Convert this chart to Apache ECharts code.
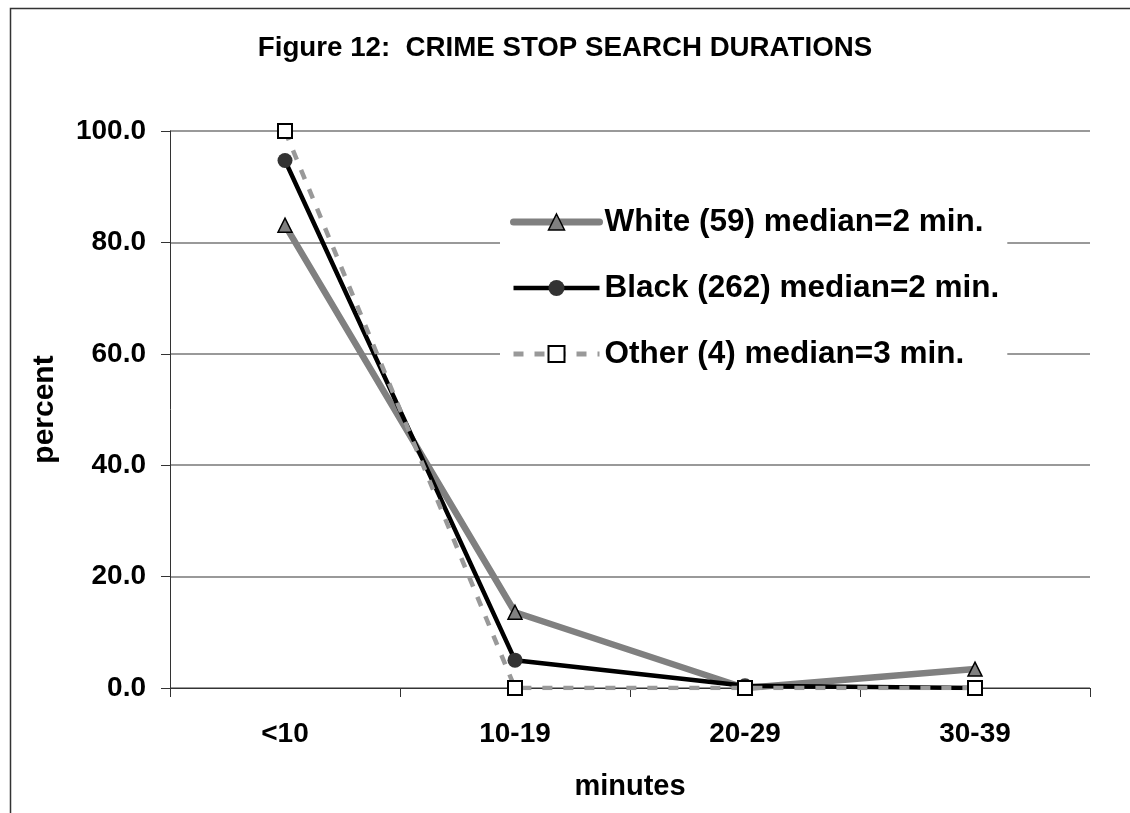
<!DOCTYPE html>
<html>
<head>
<meta charset="utf-8">
<script src="https://cdn.jsdelivr.net/npm/echarts@6/dist/echarts.min.js"></script>
<style>
html,body{margin:0;padding:0;background:#fff;}
#c{width:1130px;height:813px;}
</style>
</head>
<body>
<div id="c"></div>
<script>
var categories = ['<10', '10-19', '20-29', '30-39'];
var whiteVals = [83.1, 13.6, 0.0, 3.4];
var blackVals = [94.7, 5.0, 0.4, 0.0];
var otherVals = [100.0, 0.0, 0.0, 0.0];
var seriesNames = ['White (59) median=2 min.', 'Black (262) median=2 min.', 'Other (4) median=3 min.'];
var titleText = 'Figure 12:  CRIME STOP SEARCH DURATIONS';

var FONT = '"Liberation Sans", Arial, sans-serif';
var chart = echarts.init(document.getElementById('c'), null, {renderer: 'canvas'});
chart.setOption({
  backgroundColor: '#fff',
  animation: false,
  graphic: [{
    type: 'rect', left: 8, top: 6, z: -10, silent: true,
    shape: {width: 1300, height: 1000},
    style: {fill: 'none', stroke: '#333', lineWidth: 1.5}
  }],
  title: {
    text: titleText, left: 'center', top: 29,
    textStyle: {fontFamily: FONT, fontWeight: 'bold', fontSize: 27.7, color: '#000'}
  },
  grid: {left: 170, right: 40, top: 131, bottom: 125},
  legend: {
    orient: 'vertical', left: 500, top: 190,
    backgroundColor: '#fff', padding: [15, 8, 15, 10],
    itemWidth: 86, itemHeight: 20, itemGap: 32,
    textStyle: {fontFamily: FONT, fontWeight: 'bold', fontSize: 31.5, color: '#000', lineHeight: 34},
    data: [
      {name: seriesNames[0], lineStyle: {color: '#808080', width: 7, cap: 'round'},
        itemStyle: {color: '#808080', borderColor: '#000', borderWidth: 1.5}},
      {name: seriesNames[1], lineStyle: {color: '#000', width: 4.5},
        itemStyle: {color: '#333', borderWidth: 0}},
      {name: seriesNames[2], lineStyle: {color: '#999', width: 5, type: [10, 11]},
        itemStyle: {color: '#fff', borderColor: '#000', borderWidth: 2}}
    ]
  },
  xAxis: {
    type: 'category', data: categories, boundaryGap: true,
    name: 'minutes', nameLocation: 'middle', nameGap: 84,
    nameTextStyle: {fontFamily: FONT, fontWeight: 'bold', fontSize: 29, color: '#000'},
    axisLine: {lineStyle: {color: '#333', width: 1}},
    axisTick: {show: true, length: 9, lineStyle: {color: '#333'}},
    axisLabel: {fontFamily: FONT, fontWeight: 'bold', fontSize: 28, color: '#000', margin: 32},
    splitLine: {show: false}
  },
  yAxis: {
    type: 'value', min: 0, max: 100, interval: 20,
    name: 'percent', nameLocation: 'middle', nameGap: 110, nameRotate: 90,
    nameTextStyle: {fontFamily: FONT, fontWeight: 'bold', fontSize: 30, color: '#000'},
    axisLine: {show: true, lineStyle: {color: '#333', width: 1}},
    axisTick: {show: true, length: 9, lineStyle: {color: '#333'}},
    axisLabel: {fontFamily: FONT, fontWeight: 'bold', fontSize: 28, color: '#000', margin: 24,
      formatter: function (v) { return v.toFixed(1); }},
    splitLine: {show: true, lineStyle: {color: '#999', width: 2}}
  },
  series: [
    {
      name: seriesNames[0], type: 'line', data: whiteVals, z: 2,
      lineStyle: {color: '#808080', width: 6.5},
      symbol: 'triangle', symbolSize: 14, showAllSymbol: true,
      itemStyle: {color: '#808080', borderColor: '#000', borderWidth: 1.5}
    },
    {
      name: seriesNames[1], type: 'line', data: blackVals, z: 3,
      lineStyle: {color: '#000', width: 4.5},
      symbol: 'circle', symbolSize: 15, showAllSymbol: true,
      itemStyle: {color: '#333', borderColor: '#333', borderWidth: 0}
    },
    {
      name: seriesNames[2], type: 'line', data: otherVals, z: 4,
      lineStyle: {color: '#999', width: 4.5, type: [10, 11]},
      symbol: 'rect', symbolSize: 14, showAllSymbol: true,
      itemStyle: {color: '#fff', borderColor: '#000', borderWidth: 2}
    }
  ]
});
</script>
</body>
</html>
